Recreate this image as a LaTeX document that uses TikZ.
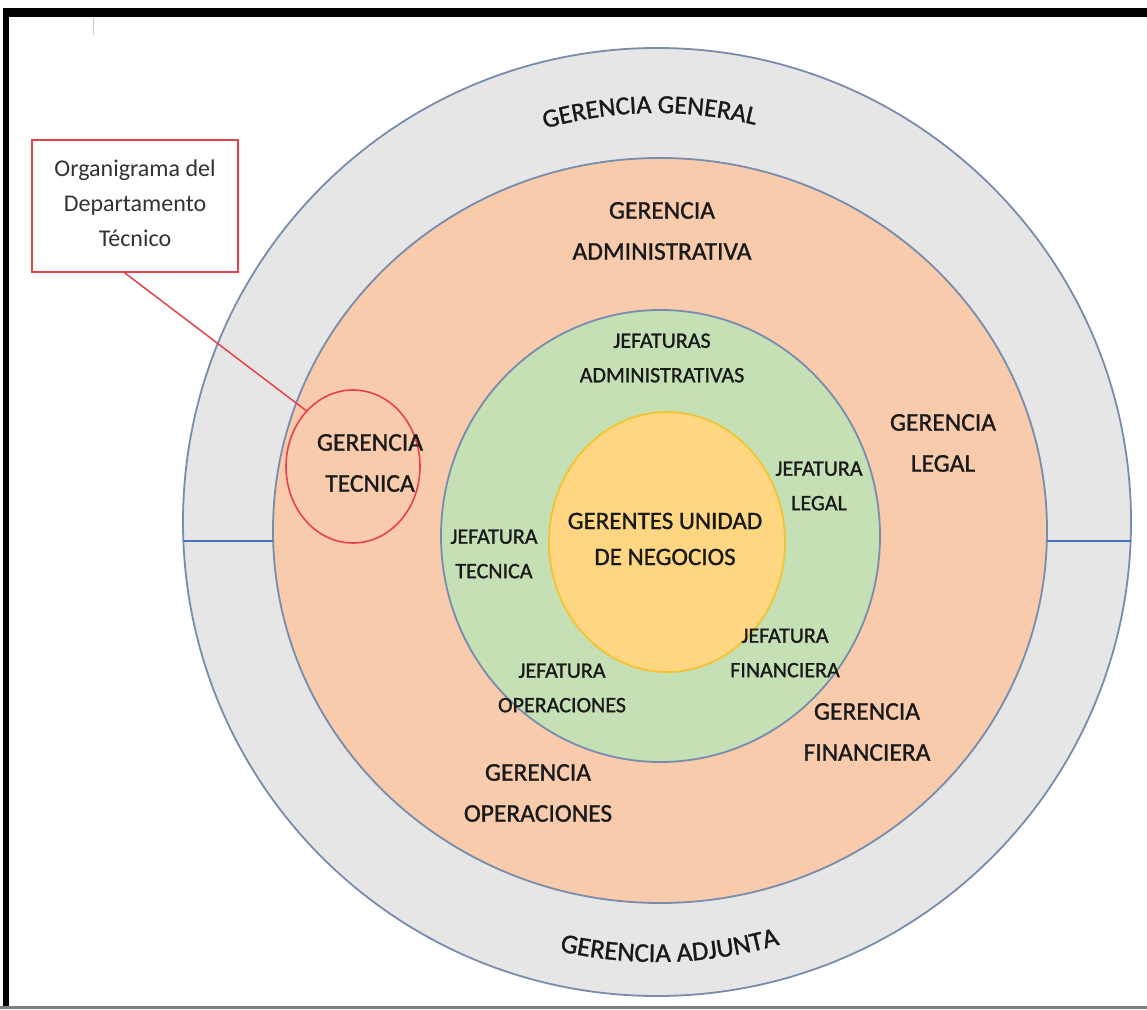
\documentclass[tikz,border=0pt]{standalone}
\usepackage{fontspec}
\setmainfont{Carlito}
\newfontfamily\labelfont[FakeBold=1.1]{Carlito}
\usetikzlibrary{shapes.geometric,decorations.text,calc}
\definecolor{ringgray}{RGB}{231,230,230}
\definecolor{ringline}{RGB}{120,140,172}
\definecolor{orangefill}{RGB}{248,203,173}
\definecolor{greenfill}{RGB}{197,224,180}
\definecolor{yellowfill}{RGB}{255,214,130}
\definecolor{yellowline}{RGB}{242,195,50}
\definecolor{redline}{RGB}{232,65,75}
\definecolor{blueline}{RGB}{68,114,196}
\definecolor{txt}{RGB}{25,25,25}
\definecolor{notetxt}{RGB}{50,50,50}
\begin{document}
\begin{tikzpicture}[x=1pt,y=1pt,
  ring/.style={draw=ringline, line width=1.8pt, ellipse, inner sep=0pt, outer sep=0pt},
  glabel/.style={font=\labelfont\fontsize{25.5}{41}\selectfont, text=txt, align=center, inner sep=0pt},
  jlabel/.style={font=\labelfont\fontsize{22}{34.5}\selectfont, text=txt, align=center, inner sep=0pt},
  corelabel/.style={font=\labelfont\fontsize{25}{36}\selectfont, text=txt, align=center, inner sep=0pt},
  notebox/.style={draw=redline, line width=1.6pt, fill=white, minimum width=206pt, minimum height=132pt, inner sep=0pt},
  notelabel/.style={font=\fontsize{24}{35}\selectfont, text=notetxt, align=center, inner sep=0pt},
  divider/.style={draw=blueline, line width=2pt},
  arctext/.style={decorate, decoration={text along path, text align=center}}
]
\useasboundingbox (0,0) rectangle (1147,1009);
\fill[white] (0,0) rectangle (1147,1009);
% frame
\fill[black] (3,992) rectangle (1147,1001);
\fill[black] (3,3) rectangle (9,1001);
\fill[black!50] (0,0.5) rectangle (1147,3);
\draw[black!20, line width=0.8pt] (93,974) -- (93,992);

% rings
\node[ring, fill=ringgray, minimum width=948pt, minimum height=948pt] (outer) at (657,487) {};
\node[ring, fill=orangefill, minimum width=774pt, minimum height=745pt] (mid) at (660,478.5) {};
\node[ring, fill=greenfill, minimum width=439pt, minimum height=452pt] (inner) at (660.5,473) {};
\node[ring, draw=yellowline, fill=yellowfill, minimum width=236pt, minimum height=260pt] (core) at (667,467) {};

% dividers
\coordinate (dl1) at (183.4,468);
\coordinate (dl2) at (273.2,468);
\coordinate (dr1) at (1046.8,468);
\coordinate (dr2) at (1130.6,468);
\draw[divider] (dl1) -- (dl2);
\draw[divider] (dr1) -- (dr2);

% curved labels
\path[arctext, decoration={text={|\labelfont\fontsize{26}{30}\selectfont\color{txt}|GERENCIA GENERAL}}]
  ($(657,487)+(111:409)$) arc[start angle=111, end angle=71, radius=409];
\path[arctext, decoration={text={|\labelfont\fontsize{27}{30}\selectfont\color{txt}|GERENCIA ADJUNTA}}]
  ($(657,487)+(251.7:440)$) arc[start angle=251.7, end angle=291.7, radius=440];

% gerencia labels
\node[glabel] (gadmin) at (662,778) {GERENCIA\\ADMINISTRATIVA};
\node[glabel] (glegal) at (943,566) {GERENCIA\\LEGAL};
\node[glabel] (gfin) at (867,277) {GERENCIA\\FINANCIERA};
\node[glabel] (gop) at (538,216) {GERENCIA\\OPERACIONES};

% gerencia tecnica highlight
\node[draw=redline, line width=1.6pt, ellipse, minimum width=134pt, minimum height=153pt, inner sep=0pt] (tecnica) at (353,542.5) {};
\node[glabel] (gtec) at (370,546) {GERENCIA\\TECNICA};

% jefatura labels
\node[jlabel] (jadmin) at (662,651) {JEFATURAS\\ADMINISTRATIVAS};
\node[jlabel] (jlegal) at (819,523) {JEFATURA\\LEGAL};
\node[jlabel] (jtec) at (494,455) {JEFATURA\\TECNICA};
\node[jlabel] (jfin) at (785,356) {JEFATURA\\FINANCIERA};
\node[jlabel] (jop) at (562,321) {JEFATURA\\OPERACIONES};

% core
\node[corelabel] (gerentes) at (665,470) {GERENTES UNIDAD\\DE NEGOCIOS};

% note box
\node[notebox] (note) at (135,803) {};
\node[notelabel] (notetext) at (135,806) {Organigrama del\\Departamento\\Técnico};
\coordinate (notefoot) at ($(note.south west)!0.45!(note.south east)$);
\draw[draw=redline, line width=1.5pt] (notefoot) -- (tecnica.130);
\end{tikzpicture}
\end{document}
